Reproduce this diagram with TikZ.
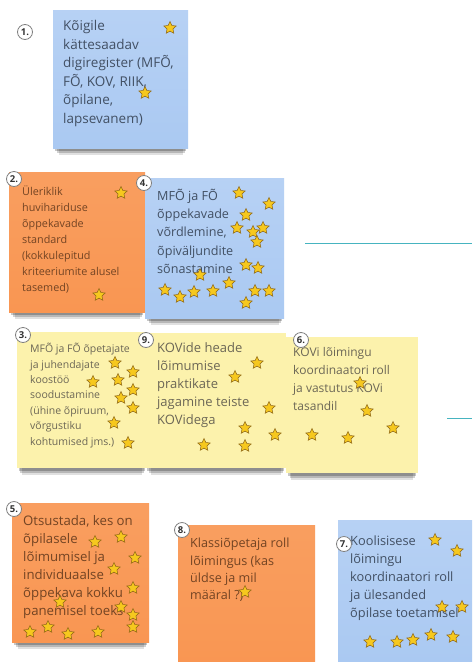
\documentclass[tikz,border=0pt]{standalone}
\usepackage{fontspec}
\setmainfont{Open Sans}
\usetikzlibrary{shapes.geometric,shadows,positioning}
\definecolor{noteblue}{RGB}{170,201,242}
\definecolor{noteorange}{RGB}{249,150,82}
\definecolor{noteyellow}{RGB}{252,242,172}
\definecolor{txtblue}{RGB}{66,80,100}
\definecolor{txtorange}{RGB}{115,68,35}
\definecolor{txtyellow}{RGB}{108,103,86}
\definecolor{stargold}{RGB}{246,200,30}
\definecolor{starline}{RGB}{140,100,20}
\definecolor{lineteal}{RGB}{70,180,192}

\begin{document}
\begin{tikzpicture}[
  x=1pt, y=-1pt,
  note/.style={rectangle, inner sep=0pt, anchor=north west,
               general shadow={fill=black, opacity=0.12, shadow yshift=-13pt, shadow scale=0.92},
               general shadow={fill=black, opacity=0.18, shadow yshift=-9pt, shadow scale=0.95},
               general shadow={fill=black, opacity=0.22, shadow yshift=-5pt, shadow scale=0.97}},
  blue/.style={note, top color=noteblue!85!white, bottom color=noteblue},
  orange/.style={note, top color=noteorange!92!white, bottom color=noteorange},
  yellow/.style={note, fill=noteyellow},
  txt/.style={anchor=north west, inner sep=0pt, align=left},
  num/.style={circle, draw=black!50, line width=0.8pt, fill=white, inner sep=0.4pt,
              minimum size=15pt, font=\fontsize{9.5}{9.5}\selectfont\bfseries, text=black!80},
  star5/.style={star, star points=5, star point ratio=2.1, fill=stargold, draw=starline,
                line width=0.5pt, minimum size=13pt, inner sep=0pt},
  link/.style={draw=lineteal, line width=1pt}
]
  \useasboundingbox[fill=white] (0,0) rectangle (472,662);

  % notes
  \node[blue,   minimum width=135pt, minimum height=138pt] (n1) at (53,10)  {};
  \node[orange, minimum width=136pt, minimum height=140pt] (n2) at (9,172)  {};
  \node[blue,   minimum width=139pt, minimum height=140pt] (n4) at (145,178) {};
  \node[yellow, minimum width=130pt, minimum height=136pt] (n3) at (17,332) {};
  \node[yellow, minimum width=141pt, minimum height=135pt] (n9) at (145,333) {};
  \node[yellow, minimum width=132pt, minimum height=136pt] (n6) at (286,337) {};
  \node[orange, minimum width=137pt, minimum height=139pt] (n5) at (12,503) {};
  \node[orange, minimum width=137pt, minimum height=140pt] (n8) at (178,525) {};
  \node[blue,   minimum width=134pt, minimum height=142pt] (n7) at (338,520) {};

  % texts
  \node[txt, text=txtblue, font=\fontsize{13.5}{18.6}\selectfont] (t1) at (63,20)
    {Kõigile\\kättesaadav\\digiregister (MFÕ,\\FÕ, KOV, RIIK,\\õpilane,\\lapsevanem)};
  \node[txt, text=txtorange, font=\fontsize{10.8}{16}\selectfont] (t2) at (22,186)
    {Üleriklik\\huvihariduse\\õppekavade\\standard\\(kokkulepitud\\kriteeriumite alusel\\tasemed)};
  \node[txt, text=txtblue, font=\fontsize{12.6}{18.2}\selectfont] (t4) at (157,189)
    {MFÕ ja FÕ\\õppekavade\\võrdlemine,\\õpiväljundite\\sõnastamine};
  \node[txt, text=txtyellow, font=\fontsize{10.5}{15.4}\selectfont] (t3) at (30,343)
    {MFÕ ja FÕ õpetajate\\ja juhendajate\\koostöö\\soodustamine\\(ühine õpiruum,\\võrgustiku\\kohtumised jms.)};
  \node[txt, text=txtyellow, font=\fontsize{13}{18}\selectfont] (t9) at (157,342)
    {KOVide heade\\lõimumise\\praktikate\\jagamine teiste\\KOVidega};
  \node[txt, text=txtyellow, font=\fontsize{12}{18.2}\selectfont] (t6) at (293,347)
    {KOVi lõimingu\\koordinaatori roll\\ja vastutus KOVi\\tasandil};
  \node[txt, text=txtorange, font=\fontsize{13.2}{18}\selectfont] (t5) at (23,515)
    {Otsustada, kes on\\õpilasele\\lõimumisel ja\\individuaalse\\õppekava kokku\\panemisel toeks};
  \node[txt, text=txtorange, font=\fontsize{12.6}{17.3}\selectfont] (t8) at (190,538)
    {Klassiõpetaja roll\\lõimingus (kas\\üldse ja mil\\määral ?)};
  \node[txt, text=txtblue, font=\fontsize{12.8}{17.8}\selectfont] (t7) at (350,536)
    {Koolisisese\\lõimingu\\koordinaatori roll\\ja ülesanded\\õpilase toetamisel};

  % numbers
  \node[num] (c1) at (25,32)  {1.};
  \node[num] (c2) at (14,179) {2.};
  \node[num] (c4) at (144,183) {4.};
  \node[num] (c3) at (23,335) {3.};
  \node[num] (c9) at (146,340) {9.};
  \node[num] (c6) at (301,340) {6.};
  \node[num] (c5) at (14,509) {5.};
  \node[num] (c8) at (182,530) {8.};
  \node[num] (c7) at (344,544) {7.};

  % stars
  \foreach \x/\y [count=\k] in {170/28, 145/93,
      121/193, 99/295,
      239/193, 269/204, 246/215, 237/228, 253/232, 263/228, 257/242, 246/265,
      258/268, 200/275, 165/290, 180/297, 194/292, 213/291, 229/283, 255/291,
      269/291, 246/303,
      115/363, 133/372, 93/382, 118/380, 133/390, 121/398, 133/408, 114/423, 128/443,
      257/363, 235/377, 269/408, 245/428, 275/435, 204/445, 245/446,
      360/383, 367/411, 312/435, 348/438, 393/428,
      95/542, 121/537, 135/558, 114/569, 133/588, 60/602, 121/607, 133/615,
      30/632, 48/627, 68/634, 98/632, 133/627,
      245/592,
      435/540, 457/551, 442/607, 462/607, 370/642, 397/642, 413/640, 431/635, 453/637}
    \node[star5] (s\k) at (\x,\y) {};

  % lines on the right
  \coordinate (l1a) at (305,243);
  \coordinate (l1b) at (472,243);
  \coordinate (l2a) at (447,418);
  \coordinate (l2b) at (472,418);
  \draw[link] (l1a) -- (l1b);
  \draw[link] (l2a) -- (l2b);
\end{tikzpicture}
\end{document}
